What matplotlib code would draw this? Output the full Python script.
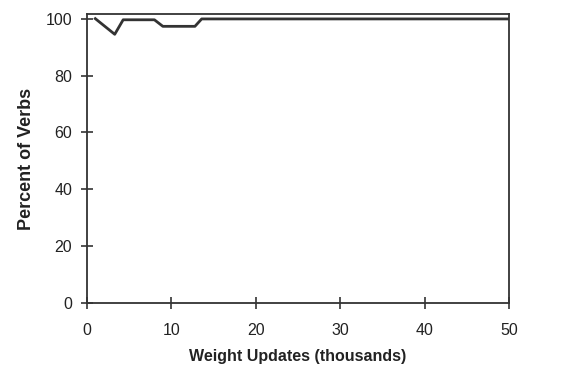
import matplotlib
matplotlib.use("Agg")
import matplotlib.pyplot as plt

x_updates = [1, 3.3, 4.3, 8.0, 9.0, 12.8, 13.6, 50]
pct_verbs = [100, 94.5, 99.6, 99.6, 97.3, 97.3, 99.9, 99.9]
x_ticks = [0, 10, 20, 30, 40, 50]
y_ticks = [0, 20, 40, 60, 80, 100]

plt.rcParams['font.family'] = ['Liberation Sans', 'DejaVu Sans']
fig = plt.figure(figsize=(5.83, 3.71), dpi=100)
ax = fig.add_axes([0.149, 0.183, 0.724, 0.779])
ax.plot(x_updates, pct_verbs, color='#333333', lw=2.0)
ax.set_xlim(0, 50)
ax.set_ylim(0, 101.6)
ax.set_xticks(x_ticks)
ax.set_yticks(y_ticks)
for s in ax.spines.values():
    s.set_color('#333333')
    s.set_linewidth(1.3)
ax.tick_params(direction='inout', length=9, width=1.2, color='#333333',
               labelsize=11.5, labelcolor='#222222')
ax.tick_params(axis='x', pad=10)
ax.tick_params(axis='y', pad=6)
ax.set_xlabel('Weight Updates (thousands)', fontsize=11.5, fontweight='bold',
              color='#222222', labelpad=8)
ax.set_ylabel('Percent of Verbs', fontsize=13, fontweight='bold',
              color='#222222', labelpad=8)
fig.savefig('out.png', dpi=100, facecolor='white')
